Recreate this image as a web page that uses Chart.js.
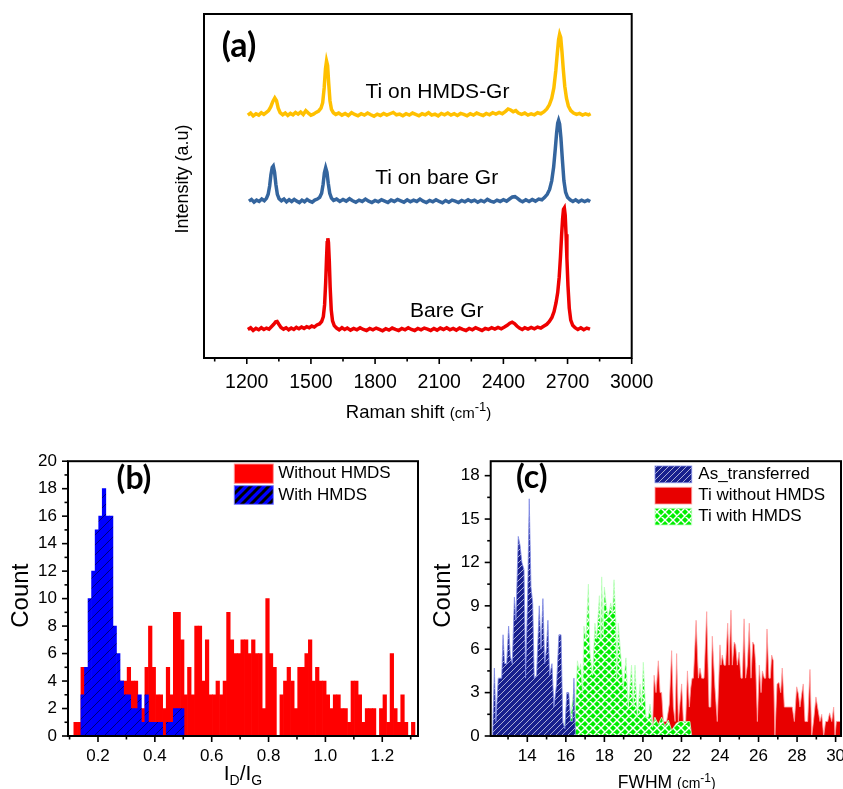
<!DOCTYPE html>
<html>
<head>
<meta charset="utf-8">
<script src="https://cdn.jsdelivr.net/npm/chart.js@4.4.0/dist/chart.umd.min.js"></script>
<style>
html, body { margin: 0; padding: 0; background: #fff; }
body { width: 843px; height: 789px; overflow: hidden; position: relative; }
canvas { position: absolute; }
#chartA { left: 0; top: 0; }
#chartB { left: 0; top: 440px; }
#chartC { left: 425px; top: 440px; }
</style>
</head>
<body>
<canvas id="chartA" width="843" height="440"></canvas>
<canvas id="chartB" width="430" height="349"></canvas>
<canvas id="chartC" width="460" height="349"></canvas>
<script>
// ---- (a) Raman spectra: [Raman shift (cm-1), intensity (a.u.)] ----
const ramanTicks = [1200, 1500, 1800, 2100, 2400, 2700, 3000];
const ramanMinor = [1050, 1350, 1650, 1950, 2250, 2550, 2850];

const tiHmdsGr = [[1205,70.6],[1218,71.2],[1230,70.4],[1243,71.0],[1256,70.6],[1268,71.3],[1280,70.8],[1292,71.4],[1302,71.9],[1312,73.0],[1322,74.6],[1331,75.6],[1339,74.8],[1347,72.6],[1356,71.3],[1368,70.7],[1380,71.2],[1392,70.5],[1404,71.1],[1416,70.7],[1428,71.4],[1440,70.9],[1452,71.5],[1464,70.8],[1476,71.9],[1488,71.2],[1500,70.6],[1512,70.9],[1524,71.4],[1536,71.8],[1547,72.6],[1555,74.2],[1562,78.5],[1568,84.0],[1573,86.3],[1578,85.0],[1583,80.0],[1589,74.8],[1596,72.3],[1605,71.3],[1616,70.8],[1630,71.2],[1645,70.6],[1660,71.1],[1675,70.5],[1690,71.3],[1705,70.8],[1720,70.4],[1735,71.0],[1750,70.6],[1765,71.2],[1780,70.7],[1795,70.3],[1810,70.9],[1825,70.5],[1840,71.1],[1855,70.6],[1870,71.0],[1885,71.4],[1900,70.7],[1915,70.9],[1930,70.4],[1945,71.0],[1960,70.6],[1975,71.2],[1990,70.8],[2005,70.4],[2020,71.0],[2035,70.7],[2050,71.3],[2065,70.6],[2080,70.9],[2095,70.4],[2110,71.1],[2125,70.7],[2140,71.2],[2155,70.6],[2170,71.0],[2185,70.5],[2200,71.1],[2215,70.8],[2230,70.4],[2245,71.0],[2260,70.6],[2275,71.2],[2290,70.8],[2305,70.5],[2320,71.1],[2335,70.7],[2350,71.3],[2365,70.9],[2380,71.4],[2395,71.0],[2410,71.7],[2422,72.4],[2434,72.1],[2446,71.6],[2458,71.9],[2470,71.2],[2485,70.8],[2500,71.2],[2515,70.6],[2530,71.0],[2545,70.7],[2560,71.3],[2575,71.0],[2590,71.6],[2603,72.4],[2615,73.6],[2626,75.5],[2636,78.5],[2645,83.5],[2652,88.5],[2658,92.5],[2663,94.1],[2668,93.2],[2674,89.0],[2680,84.0],[2687,79.0],[2695,75.5],[2704,73.2],[2715,71.9],[2728,71.2],[2742,70.8],[2756,71.1],[2770,70.6],[2784,71.0],[2798,70.7],[2808,71.0]];

const tiBareGr = [[1210,45.6],[1222,46.1],[1234,45.3],[1246,45.9],[1258,45.5],[1270,46.2],[1282,45.7],[1292,46.4],[1300,47.6],[1307,50.0],[1313,53.3],[1319,55.4],[1324,55.8],[1330,54.0],[1336,50.5],[1343,47.6],[1351,46.3],[1362,45.7],[1374,46.2],[1386,45.4],[1398,46.0],[1410,45.5],[1422,46.1],[1434,45.6],[1446,45.2],[1458,45.9],[1470,45.4],[1482,46.1],[1494,45.6],[1506,45.3],[1518,45.9],[1530,46.2],[1541,46.7],[1550,47.9],[1557,50.5],[1563,53.8],[1569,55.3],[1575,54.0],[1581,50.8],[1588,47.9],[1596,46.5],[1606,45.8],[1620,46.2],[1635,45.5],[1650,46.1],[1665,45.6],[1680,46.3],[1695,45.7],[1710,45.3],[1725,45.9],[1740,45.5],[1755,46.2],[1770,45.6],[1785,45.2],[1800,45.8],[1815,45.4],[1830,46.0],[1845,45.6],[1860,45.2],[1875,45.9],[1890,45.5],[1905,46.1],[1920,45.7],[1935,45.3],[1950,46.0],[1965,45.4],[1980,45.9],[1995,45.5],[2010,46.2],[2025,45.6],[2040,45.2],[2055,45.8],[2070,45.4],[2085,46.0],[2100,45.5],[2115,45.1],[2130,45.8],[2145,45.3],[2160,45.9],[2175,45.6],[2190,45.2],[2205,45.8],[2220,45.4],[2235,46.0],[2250,45.5],[2265,45.9],[2280,45.3],[2295,45.8],[2310,45.4],[2325,46.1],[2340,45.6],[2355,45.3],[2370,45.9],[2385,45.5],[2400,46.0],[2415,45.6],[2430,46.3],[2442,46.8],[2454,46.9],[2466,46.4],[2478,45.8],[2490,45.4],[2505,46.0],[2520,45.5],[2535,46.1],[2550,45.6],[2565,46.2],[2580,46.0],[2593,46.7],[2605,47.6],[2616,49.0],[2626,51.5],[2635,55.5],[2643,61.0],[2649,65.5],[2654,68.3],[2658,69.1],[2663,68.0],[2669,64.0],[2676,57.5],[2683,51.5],[2691,48.2],[2700,46.7],[2712,46.0],[2725,45.5],[2738,46.0],[2752,45.4],[2766,45.9],[2780,45.5],[2794,45.9],[2806,45.5]];

const bareGr = [[1205,8.3],[1218,8.8],[1230,8.0],[1243,8.6],[1256,8.2],[1268,8.8],[1280,8.3],[1292,8.7],[1304,8.4],[1315,9.1],[1326,9.8],[1335,10.5],[1342,10.6],[1350,9.8],[1360,8.9],[1372,8.4],[1384,8.8],[1396,8.2],[1408,8.7],[1420,8.3],[1432,8.9],[1444,8.5],[1456,9.0],[1468,8.6],[1480,9.1],[1492,8.8],[1504,9.3],[1516,9.0],[1528,9.6],[1540,9.9],[1550,10.6],[1558,12.0],[1564,15.5],[1569,22.0],[1573,29.0],[1576,33.5],[1579,34.8],[1582,33.6],[1586,28.0],[1590,20.5],[1595,14.0],[1601,10.8],[1609,9.4],[1620,8.7],[1632,8.2],[1645,8.8],[1658,8.3],[1670,8.7],[1685,8.1],[1700,8.6],[1715,8.2],[1730,8.8],[1745,8.3],[1760,8.0],[1775,8.6],[1790,8.2],[1805,8.7],[1820,8.3],[1835,7.9],[1850,8.5],[1865,8.1],[1880,8.7],[1895,8.3],[1910,8.0],[1925,8.6],[1940,8.2],[1955,8.8],[1970,8.3],[1985,8.0],[2000,8.6],[2015,8.2],[2030,8.7],[2045,8.4],[2060,8.0],[2075,8.6],[2090,8.1],[2105,8.7],[2120,8.3],[2135,8.8],[2150,8.2],[2165,8.6],[2180,8.1],[2195,8.7],[2210,8.3],[2225,8.0],[2240,8.6],[2255,8.2],[2270,8.8],[2285,8.4],[2300,8.0],[2315,8.6],[2330,8.3],[2345,8.8],[2360,8.4],[2375,8.9],[2390,8.5],[2405,9.0],[2418,9.5],[2430,10.1],[2441,10.4],[2452,10.0],[2463,9.3],[2475,8.7],[2488,8.3],[2500,8.8],[2515,8.4],[2530,8.9],[2545,8.5],[2560,9.0],[2575,8.7],[2590,9.3],[2603,9.8],[2615,10.6],[2627,11.8],[2637,13.5],[2646,16.0],[2654,19.0],[2661,23.5],[2667,29.5],[2672,35.5],[2677,40.5],[2681,43.2],[2685,43.6],[2689,41.5],[2693,36.0],[2697,29.0],[2702,21.0],[2708,14.5],[2715,11.0],[2724,9.5],[2735,8.8],[2748,8.3],[2762,8.8],[2776,8.2],[2790,8.7],[2805,8.4]];

// ---- (b) ID/IG histogram ----
const ratioBinStart = 0.115;
const ratioBinWidth = 0.0125;
const withoutHmds = [1,1,5,5,4,3,4,4,3,4,3,3,
  4,4,4,5,4,4,2,2, 5,8,5,3,3,2,5,3, 9,9,7,3,5,3,8,8, 4,7,3,3,4,3,4,9,
  7,6,6,7,7,6,7,6, 6,2,10,6,5,0,3,4, 5,4,2,5,5,6,7,4, 5,4,4,3,2,3,3,2,
  2,1,4,4,3,1,2,2, 2,0,2,3,1,6,2,1, 3,1,0,1];
const withHmdsFirstBin = 2;
const withHmds = [3,5,10,12,15,16,18,16,16,8,6,4,3,3,2,2,3,1,3,1,1,1,1,0,1,1,2,2,2];
const ratioTicks = [0.2, 0.4, 0.6, 0.8, 1.0, 1.2];
const ratioLabels = ['0.2', '0.4', '0.6', '0.8', '1.0', '1.2'];
const ratioMinor = [0.1, 0.3, 0.5, 0.7, 0.9, 1.1, 1.3];
const countTicksB = [0, 2, 4, 6, 8, 10, 12, 14, 16, 18, 20];
const countMinorB = [1, 3, 5, 7, 9, 11, 13, 15, 17, 19];

// ---- (c) FWHM distributions: [FWHM (cm-1), count] ----
const asTransferred = [[12.20,0],[12.29,4.7],[12.37,1.0],[12.49,4.0],[12.67,4.0],[12.74,7.0],[12.82,5.0],[12.93,5.0],[13.03,7.6],[13.12,5.5],[13.22,5.0],[13.33,9.6],[13.41,8.0],[13.53,13.8],[13.62,13.2],[13.72,12.0],[13.83,11.5],[13.91,4.0],[14.02,10.0],[14.10,16.4],[14.19,10.3],[14.28,9.2],[14.36,4.0],[14.48,4.2],[14.62,9.0],[14.71,6.0],[14.81,9.5],[14.90,5.0],[14.99,6.0],[15.07,8.0],[15.16,4.2],[15.28,5.0],[15.38,2.0],[15.52,3.6],[15.64,7.0],[15.75,7.0],[15.84,1.0],[15.95,0.5],[16.05,3.0],[16.15,3.0],[16.25,1.0],[16.35,1.0],[16.42,4.0],[16.50,0]];

const tiWithoutHmds = [[20.45,0],[20.51,1.0],[20.58,4.2],[20.68,3.0],[20.80,5.2],[20.89,3.0],[20.97,3.0],[21.06,1.0],[21.23,1.0],[21.37,2.2],[21.49,5.9],[21.58,2.0],[21.67,1.0],[21.75,5.7],[21.84,1.0],[22.01,3.6],[22.10,1.0],[22.22,1.0],[22.31,4.5],[22.41,2.0],[22.48,3.3],[22.55,4.0],[22.62,4.0],[22.76,8.0],[22.88,4.0],[22.96,4.7],[23.05,4.0],[23.17,4.0],[23.31,8.6],[23.43,2.0],[23.52,2.0],[23.60,6.9],[23.74,3.3],[23.86,1.0],[24.00,6.3],[24.05,4.9],[24.12,5.6],[24.21,4.9],[24.29,4.9],[24.40,7.8],[24.47,4.9],[24.57,8.7],[24.64,4.9],[24.74,6.5],[24.81,6.3],[24.90,4.9],[24.99,5.8],[25.09,4.0],[25.16,4.0],[25.25,8.1],[25.33,4.0],[25.42,4.9],[25.52,7.8],[25.61,4.0],[25.70,6.5],[25.78,6.3],[25.85,5.0],[25.94,1.0],[26.04,4.9],[26.13,3.0],[26.20,4.5],[26.30,4.0],[26.37,4.0],[26.44,7.4],[26.54,4.0],[26.61,4.0],[26.68,5.6],[26.77,5.2],[26.85,0],[26.96,3.6],[27.06,3.7],[27.15,3.0],[27.23,4.7],[27.34,2.0],[27.75,2.0],[27.86,1.0],[27.98,3.4],[28.07,2.9],[28.15,2.0],[28.24,2.9],[28.32,3.6],[28.41,1.0],[28.55,1.0],[28.67,4.6],[28.76,0],[28.86,1.1],[28.98,2.7],[29.09,1.8],[29.19,1.0],[29.28,1.5],[29.38,0],[29.48,1.0],[29.59,1.0],[29.69,1.6],[29.80,1.0],[29.90,2.0],[29.97,0],[30.04,1.0],[30.14,1.0],[30.28,1.0]];

const tiWithHmds = [[15.87,0],[16.01,1.5],[16.21,1.0],[16.39,2.9],[16.47,1.0],[16.60,5.2],[16.70,4.5],[16.77,5.0],[16.87,3.0],[16.94,7.6],[17.04,6.7],[17.17,10.5],[17.25,5.8],[17.39,4.2],[17.51,7.8],[17.60,6.7],[17.74,9.7],[17.82,6.7],[17.86,11.0],[17.94,7.0],[18.00,10.3],[18.12,8.8],[18.20,8.3],[18.33,9.2],[18.43,8.5],[18.50,10.8],[18.60,7.8],[18.64,4.0],[18.72,7.8],[18.89,4.9],[18.98,3.3],[19.12,5.4],[19.24,2.0],[19.41,4.9],[19.50,2.0],[19.59,4.9],[19.71,1.3],[19.85,3.6],[19.93,2.0],[20.02,5.1],[20.16,1.3],[20.28,1.3],[20.37,2.2],[20.50,0.6],[20.62,1.3],[20.80,0.8],[20.97,1.3],[21.14,0.7],[21.32,1.1],[21.49,0.4],[21.75,0.9],[21.92,1.0],[22.10,1.0],[22.27,1.0],[22.44,1.0],[22.53,0]];

const fwhmTicks = [14, 16, 18, 20, 22, 24, 26, 28, 30];
const fwhmMinor = [13, 15, 17, 19, 21, 23, 25, 27, 29];
const countTicksC = [0, 3, 6, 9, 12, 15, 18];
const countMinorC = [1.5, 4.5, 7.5, 10.5, 13.5, 16.5];

const SANS = "'Liberation Sans', Arial, sans-serif";
const LATO = "Lato, 'Open Sans', sans-serif";
Chart.defaults.font.family = SANS;
Chart.defaults.color = '#000';

function hatch(bg, line, width, step, cross) {
    const c = document.createElement('canvas');
    c.width = step; c.height = step;
    const g = c.getContext('2d');
    g.fillStyle = bg;
    g.fillRect(0, 0, step, step);
    g.strokeStyle = line;
    g.lineWidth = width;
    g.beginPath();
    g.moveTo(-1, step + 1); g.lineTo(step + 1, -1);
    g.moveTo(-1, 1); g.lineTo(1, -1);
    g.moveTo(step - 1, step + 1); g.lineTo(step + 1, step - 1);
    if (cross) {
        g.moveTo(-1, -1); g.lineTo(step + 1, step + 1);
        g.moveTo(step - 1, -1); g.lineTo(step + 1, 1);
        g.moveTo(-1, step - 1); g.lineTo(1, step + 1);
    }
    g.stroke();
    return g.createPattern(c, 'repeat');
}

const blueDots = hatch('#0000ff', 'rgba(0,0,0,0.65)', 0.8, 10);
const blueStripe = hatch('#0000ff', '#000', 3, 9);
const navyHatch = hatch('#18208e', 'rgba(255,255,255,0.7)', 0.9, 6);
const greenCross = hatch('#00ee00', '#ffffff', 1.4, 8, true);

function drawParts(ctx, t) {
    ctx.save();
    ctx.translate(t.x, t.y);
    if (t.rot) ctx.rotate(t.rot);
    ctx.fillStyle = '#000';
    ctx.textBaseline = t.baseline || 'alphabetic';
    const fontOf = p => (p[2] ? 'bold ' : '') + p[1] + 'px ' + (p[4] || SANS);
    let total = 0;
    t.parts.forEach(p => { ctx.font = fontOf(p); total += ctx.measureText(p[0]).width; });
    let x = -total / 2;
    t.parts.forEach(p => {
        ctx.font = fontOf(p);
        ctx.fillText(p[0], x, p[3] || 0);
        x += ctx.measureText(p[0]).width;
    });
    ctx.restore();
}

// frame, outward ticks, axis titles, panel letters and legends
const deco = {
    id: 'deco',
    afterDraw(chart, args, opts) {
        const ctx = chart.ctx;
        const a = chart.chartArea;
        const xs = chart.scales.x, ys = chart.scales.y;
        ctx.save();
        ctx.strokeStyle = '#000';
        ctx.lineWidth = 1.6;
        const tick = (scale, vals, len) => {
            (vals || []).forEach(v => {
                const p = scale.getPixelForValue(v);
                ctx.beginPath();
                if (scale.isHorizontal()) { ctx.moveTo(p, a.bottom); ctx.lineTo(p, a.bottom + len); }
                else { ctx.moveTo(a.left, p); ctx.lineTo(a.left - len, p); }
                ctx.stroke();
            });
        };
        tick(xs, opts.xMajor, 6);
        tick(xs, opts.xMinor, 3.5);
        tick(ys, opts.yMajor, 6);
        tick(ys, opts.yMinor, 3.5);
        ctx.lineWidth = 2;
        ctx.strokeRect(a.left, a.top, a.right - a.left, a.bottom - a.top);

        (opts.legend || []).forEach(l => {
            ctx.fillStyle = l.fill;
            ctx.fillRect(l.x, l.y, l.w, l.h);
            ctx.lineWidth = 1;
            ctx.strokeStyle = l.edge;
            ctx.strokeRect(l.x, l.y, l.w, l.h);
            ctx.fillStyle = '#000';
            ctx.font = '17px ' + SANS;
            ctx.textBaseline = 'middle';
            ctx.textAlign = 'left';
            ctx.fillText(l.label, l.tx, l.ty);
        });
        (opts.texts || []).forEach(t => drawParts(ctx, t));
        ctx.restore();
    }
};

const fixedTicks = vals => scale => { scale.ticks = vals.map(v => ({ value: v })); };
const hiddenGrid = { display: false, drawTicks: false };

// ---------- (a) ----------
const lineSet = (label, pts, color) => ({
    label: label,
    data: pts.map(p => ({ x: p[0], y: p[1] })),
    borderColor: color,
    borderWidth: 3.5,
    pointRadius: 0,
    tension: 0,
    fill: false
});

new Chart(document.getElementById('chartA'), {
    type: 'line',
    data: {
        datasets: [
            lineSet('Ti on HMDS-Gr', tiHmdsGr, '#ffc000'),
            lineSet('Ti on bare Gr', tiBareGr, '#34659e'),
            lineSet('Bare Gr', bareGr, '#ee0000')
        ]
    },
    options: {
        responsive: false,
        animation: false,
        layout: { padding: { left: 0, top: 14, right: 211.3, bottom: 0 } },
        plugins: {
            legend: { display: false },
            tooltip: { enabled: false },
            deco: {
                xMajor: ramanTicks, xMinor: ramanMinor,
                texts: [
                    { x: 239, y: 57, parts: [['(a)', 34, true, 0, LATO]] },
                    { x: 437.5, y: 98, parts: [['Ti on HMDS-Gr', 21]] },
                    { x: 436.7, y: 184, parts: [['Ti on bare Gr', 21]] },
                    { x: 446.7, y: 317, parts: [['Bare Gr', 21]] },
                    { x: 183, y: 179, rot: -Math.PI / 2, baseline: 'middle', parts: [['Intensity (a.u)', 18]] },
                    { x: 418.5, y: 418, parts: [['Raman shift ', 18.5], ['(cm', 15], ['-1', 13, false, -7], [')', 15]] }
                ]
            }
        },
        scales: {
            x: {
                type: 'linear', min: 1000, max: 3000,
                grid: hiddenGrid, border: { display: false },
                afterBuildTicks: fixedTicks(ramanTicks),
                ticks: { font: { size: 19.5 }, padding: 13, autoSkip: false, maxRotation: 0, callback: v => String(v) },
                afterFit: s => { s.height = 82; }
            },
            y: {
                min: 0, max: 100,
                grid: hiddenGrid, border: { display: false },
                ticks: { display: false },
                afterFit: s => { s.width = 204; }
            }
        }
    },
    plugins: [deco]
});

// ---------- (b) ----------
const binCenter = i => ratioBinStart + ratioBinWidth * (i + 0.5);

new Chart(document.getElementById('chartB'), {
    type: 'bar',
    data: {
        datasets: [
            {
                label: 'Without HMDS',
                data: withoutHmds.map((c, i) => ({ x: binCenter(i), y: c })),
                backgroundColor: '#ff0000',
                borderWidth: 0,
                order: 2
            },
            {
                label: 'With HMDS',
                data: withHmds.map((c, i) => ({ x: binCenter(withHmdsFirstBin + i), y: c })),
                backgroundColor: blueDots,
                borderWidth: 0,
                order: 1
            }
        ]
    },
    options: {
        responsive: false,
        animation: false,
        layout: { padding: { left: 0, top: 15, right: 12, bottom: 0 } },
        datasets: { bar: { grouped: false, barPercentage: 1, categoryPercentage: 1 } },
        plugins: {
            legend: { display: false },
            tooltip: { enabled: false },
            deco: {
                xMajor: ratioTicks, xMinor: ratioMinor, yMajor: countTicksB, yMinor: countMinorB,
                legend: [
                    { x: 234.3, y: 24, w: 39, h: 19.3, fill: '#ff0000', edge: 'rgba(255,150,150,0.9)', label: 'Without HMDS', tx: 278.3, ty: 33.5 },
                    { x: 234.3, y: 45.7, w: 39, h: 18.6, fill: blueStripe, edge: 'rgba(120,120,255,0.9)', label: 'With HMDS', tx: 278.3, ty: 55 }
                ],
                texts: [
                    { x: 134, y: 49, parts: [['(b)', 32, true, 0, LATO]] },
                    { x: 21.7, y: 155.7, rot: -Math.PI / 2, baseline: 'middle', parts: [['Count', 24]] },
                    { x: 243, y: 340, parts: [['I', 21], ['D', 14, false, 5], ['/I', 21], ['G', 14, false, 5]] }
                ]
            }
        },
        scales: {
            x: {
                type: 'linear', min: 0.0945, max: 1.3257, offset: false,
                grid: { display: false, drawTicks: false, offset: false }, border: { display: false },
                afterBuildTicks: fixedTicks(ratioTicks),
                ticks: { font: { size: 17 }, padding: 10, autoSkip: false, maxRotation: 0, callback: (v, i) => ratioLabels[i] },
                afterFit: s => { s.height = 53; }
            },
            y: {
                min: 0, max: 20,
                grid: hiddenGrid, border: { display: false },
                afterBuildTicks: fixedTicks(countTicksB),
                ticks: { font: { size: 17 }, padding: 11, autoSkip: false, callback: v => String(v) },
                afterFit: s => { s.width = 68; }
            }
        }
    },
    plugins: [deco]
});

// ---------- (c) ----------
const areaSet = (label, pts, fill, edge, order) => ({
    label: label,
    data: pts.map(p => ({ x: p[0], y: p[1] })),
    backgroundColor: fill,
    borderColor: edge,
    borderWidth: 1,
    pointRadius: 0,
    tension: 0,
    fill: 'origin',
    order: order
});

new Chart(document.getElementById('chartC'), {
    type: 'line',
    data: {
        datasets: [
            areaSet('As_transferred', asTransferred, navyHatch, 'rgba(130,140,230,0.8)', 0),
            areaSet('Ti without HMDS', tiWithoutHmds, '#e80000', 'rgba(255,160,160,0.8)', 2),
            areaSet('Ti with HMDS', tiWithHmds, greenCross, 'rgba(190,255,190,0.8)', 1)
        ]
    },
    options: {
        responsive: false,
        animation: false,
        layout: { padding: { left: 0, top: 15, right: 44, bottom: 0 } },
        plugins: {
            legend: { display: false },
            tooltip: { enabled: false },
            deco: {
                xMajor: fwhmTicks, xMinor: fwhmMinor, yMajor: countTicksC, yMinor: countMinorC,
                legend: [
                    { x: 230, y: 26, w: 36.7, h: 16.7, fill: navyHatch, edge: 'rgba(130,140,230,0.8)', label: 'As_transferred', tx: 273.3, ty: 34.3 },
                    { x: 230, y: 47.3, w: 36.7, h: 16.7, fill: '#e80000', edge: 'rgba(255,160,160,0.8)', label: 'Ti without HMDS', tx: 273.3, ty: 55.6 },
                    { x: 230, y: 68.3, w: 36.7, h: 16.7, fill: greenCross, edge: 'rgba(190,255,190,0.8)', label: 'Ti with HMDS', tx: 273.3, ty: 76.7 }
                ],
                texts: [
                    { x: 106.7, y: 48, parts: [['(c)', 32, true, 0, LATO]] },
                    { x: 18.3, y: 155.7, rot: -Math.PI / 2, baseline: 'middle', parts: [['Count', 24]] },
                    { x: 241.7, y: 347.5, parts: [['FWHM ', 17.5], ['(cm', 14], ['-1', 12, false, -6], [')', 14]] }
                ]
            }
        },
        scales: {
            x: {
                type: 'linear', min: 12.1, max: 30.28,
                grid: hiddenGrid, border: { display: false },
                afterBuildTicks: fixedTicks(fwhmTicks),
                ticks: { font: { size: 17 }, padding: 10, autoSkip: false, maxRotation: 0, callback: v => String(v) },
                afterFit: s => { s.height = 53; }
            },
            y: {
                min: 0, max: 19,
                grid: hiddenGrid, border: { display: false },
                afterBuildTicks: fixedTicks(countTicksC),
                ticks: { font: { size: 17 }, padding: 11, autoSkip: false, callback: v => String(v) },
                afterFit: s => { s.width = 65.7; }
            }
        }
    },
    plugins: [deco]
});
</script>
</body>
</html>
